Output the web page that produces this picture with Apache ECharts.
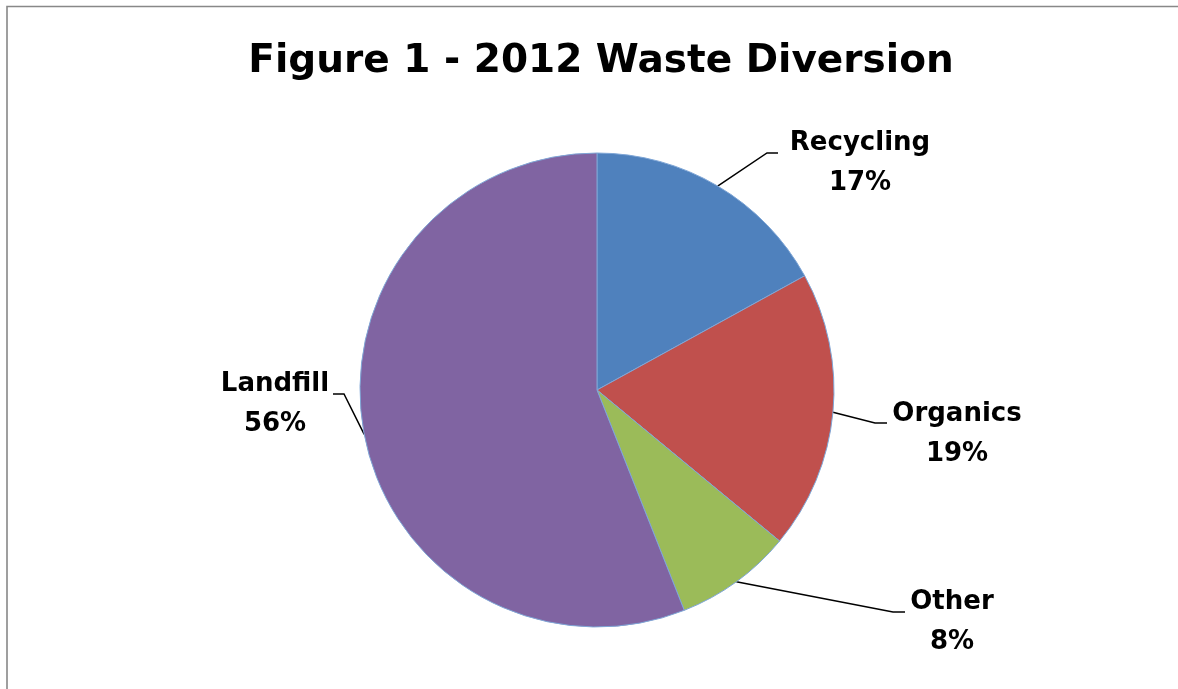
<!DOCTYPE html>
<html>
<head>
<meta charset="utf-8">
<script src="https://cdn.jsdelivr.net/npm/echarts@6/dist/echarts.min.js"></script>
<style>
  html, body { margin: 0; padding: 0; background: #fff; }
  #main { width: 1178px; height: 689px; }
</style>
</head>
<body>
<div id="main"></div>
<script>
var categories = ['Recycling', 'Organics', 'Other', 'Landfill'];
var shares = [17, 19, 8, 56];
var colors = ['#4F81BD', '#C0504D', '#9BBB59', '#8064A2'];

// where each label block sits (center) and the elbow of its leader line
var labelSpots = [
    { x: 860, y: 163, elbow: [767, 153], end: [778, 153] },
    { x: 957, y: 434, elbow: [875, 423], end: [887, 423] },
    { x: 952, y: 622, elbow: [893, 612], end: [905, 612] },
    { x: 275, y: 404, elbow: [344, 394], end: [333, 394] }
];

var pieData = [];
for (var i = 0; i < categories.length; i++) {
    pieData.push({ name: categories[i], value: shares[i], itemStyle: { color: colors[i] } });
}

var myChart = echarts.init(document.getElementById('main'));

myChart.setOption({
    animation: false,
    title: {
        text: 'Figure 1 - 2012 Waste Diversion',
        left: 596,
        top: 37,
        textAlign: 'center',
        textStyle: {
            fontFamily: 'DejaVu Sans',
            fontWeight: 'bold',
            fontSize: 39,
            color: '#000'
        }
    },
    graphic: [
        {
            type: 'rect',
            shape: { x: 7, y: 6.5, width: 1400, height: 1000 },
            style: { fill: 'none', stroke: '#888', lineWidth: 1.6 },
            silent: true
        }
    ],
    series: [
        {
            type: 'pie',
            center: [597, 390],
            radius: 237,
            startAngle: 90,
            clockwise: true,
            data: pieData,
            itemStyle: { borderColor: '#7FA6D6', borderWidth: 1 },
            label: {
                show: true,
                position: 'outside',
                formatter: '{b}\n{d}%',
                fontFamily: 'DejaVu Sans',
                fontWeight: 'bold',
                fontSize: 26,
                lineHeight: 40,
                color: '#000',
                align: 'center'
            },
            labelLine: {
                show: true,
                length: 20,
                length2: 10,
                lineStyle: { color: '#000', width: 1.5 }
            },
            labelLayout: function (params) {
                var s = labelSpots[params.dataIndex];
                var start = params.labelLinePoints ? params.labelLinePoints[0] : s.elbow;
                return {
                    x: s.x,
                    y: s.y,
                    align: 'center',
                    verticalAlign: 'middle',
                    labelLinePoints: [start, s.elbow, s.end]
                };
            }
        }
    ]
});
</script>
</body>
</html>
